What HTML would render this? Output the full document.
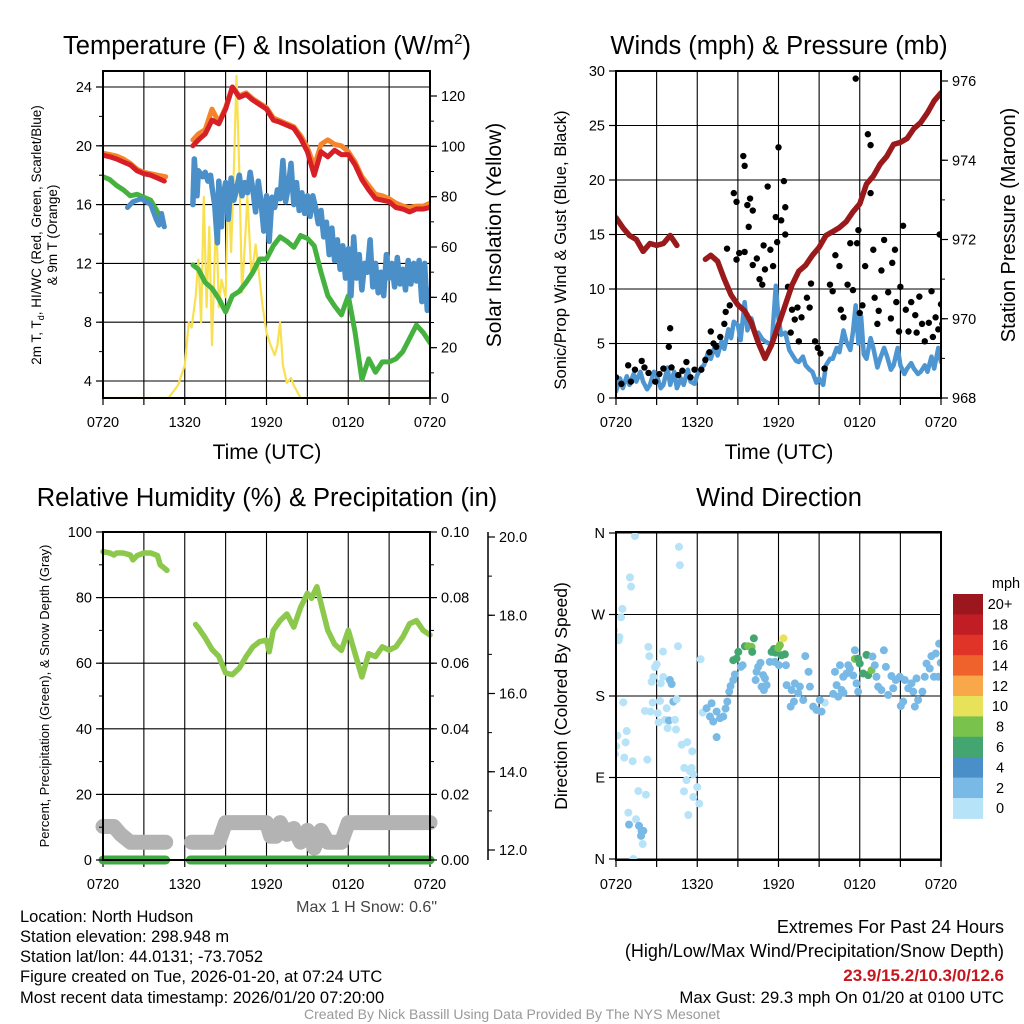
<!DOCTYPE html>
<html><head><meta charset="utf-8"><style>
html,body{margin:0;padding:0;background:#fff;}
svg{display:block;font-family:"Liberation Sans",sans-serif;}
</style></head><body>
<svg id="fig" width="1024" height="1024" viewBox="0 0 1024 1024">
<g id="g1"></g>
<g id="g2"></g>
<g id="g3"></g>
<g id="g4"></g>
<g font-size="25.5" text-anchor="middle">
<text x="267" y="54">Temperature (F) &amp; Insolation (W/m<tspan font-size="15" dy="-10">2</tspan><tspan dy="10">)</tspan></text>
<text x="779" y="54">Winds (mph) &amp; Pressure (mb)</text>
<text x="267" y="506">Relative Humidity (%) &amp; Precipitation (in)</text>
<text x="779" y="506">Wind Direction</text>
</g>
<g font-size="21" text-anchor="middle">
<text x="267" y="459">Time (UTC)</text>
<text x="779" y="459">Time (UTC)</text>
<text transform="translate(41,235) rotate(-90)" font-size="13.5">2m T, T<tspan font-size="9" dy="3">d</tspan><tspan dy="-3">, HI/WC (Red, Green, Scarlet/Blue)</tspan></text>
<text transform="translate(57,235) rotate(-90)" font-size="13.5">&amp; 9m T (Orange)</text>
<text transform="translate(501,235) rotate(-90)" font-size="21">Solar Insolation (Yellow)</text>
<text transform="translate(566,250) rotate(-90)" font-size="16.7">Sonic/Prop Wind &amp; Gust (Blue, Black)</text>
<text transform="translate(1015,225) rotate(-90)" font-size="20">Station Pressure (Maroon)</text>
<text transform="translate(49,696) rotate(-90)" font-size="13">Percent, Precipitation (Green), &amp; Snow Depth (Gray)</text>
<text transform="translate(567,696) rotate(-90)" font-size="17.5">Direction (Colored By Speed)</text>
</g>
<g font-size="16.5">
<text x="20" y="922">Location: North Hudson</text>
<text x="20" y="942">Station elevation: 298.948 m</text>
<text x="20" y="962">Station lat/lon: 44.0131; -73.7052</text>
<text x="20" y="982">Figure created on Tue, 2026-01-20, at 07:24 UTC</text>
<text x="20" y="1003">Most recent data timestamp: 2026/01/20 07:20:00</text>
<text x="437" y="912" text-anchor="end" font-size="16" fill="#444">Max 1 H Snow: 0.6"</text>
</g>
<g font-size="18" text-anchor="end">
<text x="1004" y="933">Extremes For Past 24 Hours</text>
<text x="1004" y="957">(High/Low/Max Wind/Precipitation/Snow Depth)</text>
<text x="1004" y="981" fill="#c8161e" font-weight="bold" font-size="17">23.9/15.2/10.3/0/12.6</text>
<text x="1004" y="1003" font-size="16.8">Max Gust: 29.3 mph On 01/20 at 0100 UTC</text>
</g>
<text x="512" y="1019" font-size="14" fill="#999" text-anchor="middle">Created By Nick Bassill Using Data Provided By The NYS Mesonet</text>
</svg>
<script>
// ---------- data (hours since 0720 UTC) ----------
const xTickLabels = ["0720","1320","1920","0120","0720"];
// Temperature panel
const red1 = [[0,19.36],[0.5,19.25],[1,19.1],[1.5,18.9],[2,18.7],[2.5,18.3],[3,18.1],[3.5,18.0],[4,17.8],[4.5,17.6]];
const red2 = [[6.6,20.0],[7,20.4],[7.5,20.8],[8,21.75],[8.5,21.5],[9,22.5],[9.5,24.0],[10,23.3],[10.5,23.5],[11,23.1],[11.5,22.8],[12,22.5],[12.5,21.75],[13,21.6],[13.5,21.4],[14,21.2],[14.5,20.5],[15,19.6],[15.5,18.0],[16,19.6],[16.5,19.25],[17,19.7],[17.5,19.4],[18,19.4],[18.5,18.7],[19,17.7],[19.5,17.0],[20,16.4],[20.5,16.3],[21,16.2],[21.5,15.8],[22,15.7],[22.5,15.5],[23,15.7],[23.5,15.7],[24,15.8]];
const orange1 = [[0,19.5],[0.5,19.4],[1,19.3],[1.5,19.1],[2,18.8],[2.5,18.4],[3,18.2],[3.5,18.1],[4,18.0],[4.6,17.9]];
const orange2 = [[6.6,20.4],[7,20.8],[7.5,21.1],[8,22.5],[8.5,21.6],[9,22.6],[9.5,24.0],[10,23.4],[10.5,23.6],[11,23.2],[11.5,22.9],[12,22.6],[12.5,21.9],[13,21.7],[13.5,21.5],[14,21.3],[14.5,20.7],[15,19.9],[15.5,18.6],[16,20.1],[16.5,20.4],[17,20.1],[17.5,20.0],[18,19.6],[18.5,18.9],[19,17.9],[19.5,17.3],[20,16.7],[20.5,16.6],[21,16.4],[21.5,16.1],[22,15.9],[22.5,15.8],[23,15.9],[23.5,15.9],[24,16.1]];
const green1 = [[0,17.9],[0.5,17.7],[1,17.3],[1.5,17.0],[2,16.6],[2.5,16.7],[3,16.5],[3.5,16.3],[4,15.5],[4.5,14.5]];
const green2 = [[6.6,11.9],[7,11.6],[7.5,10.7],[8,10.3],[8.5,9.6],[9,8.7],[9.5,9.8],[10,10.1],[10.5,10.7],[11,11.4],[11.5,12.3],[12,12.3],[12.5,13.2],[13,13.8],[13.5,13.5],[14,13.1],[14.5,13.9],[15,13.7],[15.5,13.2],[16,11.4],[16.5,9.8],[17,9.1],[17.5,8.5],[18,9.8],[18.5,7.3],[19,4.1],[19.5,5.5],[20,4.6],[20.5,5.3],[21,5.3],[21.5,5.5],[22,6.0],[22.5,6.9],[23,7.8],[23.5,7.3],[24,6.6]];
const blue1 = [[1.8,15.8],[2.2,16.2],[2.8,16.4],[3.5,16.0],[3.9,15.0],[4.1,14.6],[4.3,15.4],[4.5,14.5]];
const blue2 = [[6.6,16.0],[6.7,19.1],[6.9,16.6],[7.0,18.3],[7.3,17.9],[7.5,18.2],[7.7,17.6],[7.9,18.0],[8.0,17.2],[8.2,16.0],[8.4,13.4],[8.5,17.6],[8.7,14.5],[8.8,16.5],[9.0,17.5],[9.2,15.0],[9.4,17.8],[9.6,16.3],[9.8,17.0],[10.0,18.0],[10.2,16.6],[10.4,17.5],[10.6,16.8],[10.8,18.2],[11.0,17.0],[11.2,15.5],[11.4,17.6],[11.6,16.2],[11.8,14.2],[12.0,16.6],[12.2,13.5],[12.4,16.5],[12.6,15.8],[12.8,17.0],[13.0,16.4],[13.2,19.0],[13.4,16.2],[13.6,17.2],[13.8,18.8],[14.0,16.0],[14.2,17.5],[14.4,15.6],[14.6,16.8],[14.8,15.4],[15.0,16.6],[15.2,15.2],[15.4,16.6],[15.6,15.8],[15.8,14.7],[16.0,15.6],[16.2,13.8],[16.4,14.8],[16.6,12.6],[16.8,14.4],[17.0,12.2],[17.2,13.6],[17.4,11.6],[17.6,13.2],[17.8,11.0],[18.0,13.0],[18.2,9.8],[18.4,13.8],[18.6,11.0],[18.8,12.6],[19.0,10.2],[19.2,12.0],[19.4,11.4],[19.6,13.6],[19.8,10.4],[20.0,12.0],[20.2,10.0],[20.4,11.4],[20.6,9.8],[20.8,12.6],[21.0,11.0],[21.2,12.0],[21.4,10.4],[21.6,12.4],[21.8,10.6],[22.0,11.6],[22.2,10.2],[22.4,12.2],[22.6,10.6],[22.8,12.0],[23.0,10.8],[23.2,12.2],[23.4,9.4],[23.6,12.0],[23.8,8.8],[24.0,10.2]];
const solar = [[0,0],[4.8,0],[5.5,5],[6,13],[6.3,30],[6.5,28],[6.8,40],[7,55],[7.2,30],[7.4,80],[7.6,36],[7.8,68],[8,21],[8.3,74],[8.5,36],[8.7,47],[9,40],[9.2,86],[9.4,58],[9.6,90],[9.8,128],[10,90],[10.2,42],[10.4,60],[10.6,80],[10.9,48],[11.2,61],[11.5,47],[11.7,37],[12,26],[12.3,21],[12.6,17],[12.8,21],[13,30],[13.2,13],[13.5,6],[13.8,8],[14,5],[14.5,0],[24,0]];
const tempTicks = [4,8,12,16,20,24];
const solarTicks = [0,20,40,60,80,100,120];
// Winds panel
const press1 = [[0,972.55],[0.5,972.3],[1,972.1],[1.5,972.0],[2,971.7],[2.5,971.9],[3,971.85],[3.5,971.9],[4,972.1],[4.5,971.85]];
const press2 = [[6.6,971.5],[7,971.6],[7.5,971.45],[8,971.0],[8.5,970.6],[9,970.35],[9.5,970.2],[10,969.9],[10.5,969.4],[11,969.0],[11.5,969.35],[12,969.85],[12.5,970.35],[13,970.85],[13.5,971.2],[14,971.35],[14.5,971.6],[15,971.8],[15.5,972.1],[16,972.2],[16.5,972.3],[17,972.45],[17.5,972.7],[18,972.9],[18.5,973.4],[19,973.6],[19.5,973.9],[20,974.1],[20.5,974.4],[21,974.45],[21.5,974.55],[22,974.8],[22.5,974.95],[23,975.2],[23.5,975.5],[24,975.7]];
const windSpd = [[0,0.6],[0.3,1.8],[0.5,0.9],[0.8,2.0],[1,1.2],[1.3,2.2],[1.5,1.5],[1.8,2.4],[2,1.5],[2.3,0.8],[2.5,1.2],[2.8,2.4],[3,2.1],[3.3,0.9],[3.5,1.2],[3.8,2.8],[4,1.2],[4.3,2.4],[4.5,0.9],[4.8,1.8],[5,1.2],[5.3,2.6],[5.5,1.5],[5.8,1.3],[6,2.1],[6.3,2.8],[6.5,3.0],[6.8,4.2],[7,3.6],[7.3,4.8],[7.5,3.9],[7.8,5.2],[8,4.5],[8.3,6.3],[8.5,5.5],[8.7,7.0],[9,6.7],[9.2,5.3],[9.5,8.8],[9.7,6.2],[10,7.3],[10.3,5.8],[10.5,6.0],[10.8,5.4],[11,5.2],[11.3,5.0],[11.5,4.8],[11.8,10.3],[12,7.3],[12.2,5.8],[12.5,6.0],[12.8,4.4],[13,4.0],[13.3,3.4],[13.5,3.3],[13.8,3.8],[14,3.0],[14.3,2.6],[14.5,2.4],[14.8,1.4],[15,1.8],[15.3,1.2],[15.5,3.0],[15.8,3.6],[16,3.6],[16.3,4.6],[16.5,4.2],[16.8,6.2],[17,5.2],[17.3,4.4],[17.5,6.1],[17.7,8.5],[17.9,5.0],[18.1,7.5],[18.3,4.0],[18.5,3.6],[18.8,5.5],[19,4.6],[19.3,2.8],[19.5,3.6],[19.8,4.6],[20,3.9],[20.3,2.6],[20.5,3.0],[20.8,4.6],[21,3.0],[21.3,2.2],[21.5,2.7],[21.8,3.2],[22,2.7],[22.3,2.2],[22.5,2.4],[22.8,3.0],[23,2.4],[23.3,3.8],[23.5,2.7],[23.8,4.6],[24,3.3]];
const gusts = [[0,1.9],[0.4,1.3],[0.9,3.0],[1.4,2.6],[1.9,3.4],[2.4,2.3],[2.9,1.5],[3.5,2.7],[4,6.4],[3.9,4.7],[4.1,2.8],[4.6,2.1],[5.2,3.3],[5.8,2.6],[6.3,2.6],[6.6,3.5],[7,6.1],[7.4,4.7],[7.7,5.6],[8.1,7.9],[8.2,13.7],[8.4,8.5],[8.7,18.8],[8.9,12.7],[8.9,18.0],[9.1,13.3],[9.4,22.2],[9.5,21.3],[9.5,13.4],[9.7,17.7],[9.8,15.7],[9.9,18.3],[10.1,17.2],[10.1,12.2],[10.4,12.8],[10.8,10.4],[10.9,14],[11.2,19.4],[11.4,13.6],[11.6,12.1],[11.8,16.6],[11.9,14.3],[12,23.0],[12.2,16.3],[12.4,19.9],[12.5,17.5],[12.5,15],[12.7,10.2],[13,8.1],[13.2,7.2],[13.5,5.2],[13.7,7.4],[14.1,9.2],[14.3,8.3],[14.4,10.5],[14.7,5.2],[15.1,4.1],[15.4,2.7],[15.8,10.4],[16.2,13.1],[16.5,12.1],[16.6,8.1],[16.8,7.4],[17.1,10.4],[17.3,14.2],[17.5,9.9],[17.7,29.3],[17.8,14.2],[17.9,15.4],[18.2,8.5],[18.4,12.1],[18.6,24.2],[18.8,23.2],[18.8,18.8],[19,13.6],[19.1,9.2],[19.3,6.8],[19.6,11.7],[19.8,14.5],[20.1,9.7],[20.4,12.4],[20.6,13.6],[20.7,8.8],[20.9,6.1],[21.2,15.8],[21.4,8.1],[21.6,6.1],[21.8,8.8],[22.1,7.6],[22.2,6.0],[22.6,6.8],[22.8,5.2],[23.1,6.9],[23.3,9.8],[23.6,7.4],[23.8,6.3],[23.9,15.0],[24,8.6],[24.1,6.8],[1.1,1.5],[2.1,2.8],[3.2,2.2],[4.9,2.5],[5.5,1.9],[6.9,4.2],[7.2,5.0],[8.0,6.8],[10.6,10.9],[11.0,11.8],[12.9,6.0],[13.4,8.3],[14.9,4.6],[16.0,9.8],[18.0,7.8],[19.4,8.0],[20.3,7.3],[21.0,10.2],[22.4,9.3],[23.4,5.6]];
const windTicks = [0,5,10,15,20,25,30];
const pressTicks = [968,970,972,974,976];
// Humidity panel
const rh1 = [[0,94],[0.5,93.6],[0.8,93],[1,93.6],[1.5,93.6],[2,93],[2.2,91.5],[2.5,92.8],[3,93.6],[3.5,93.6],[4,92.8],[4.2,90],[4.5,89],[4.7,88.3]];
const rh2 = [[6.8,71.8],[7,70.8],[7.5,67.7],[8,64.2],[8.5,62.1],[9,57],[9.5,56.5],[10,58.5],[10.5,62],[11,65],[11.5,66.6],[12,67],[12.2,63.5],[12.5,70],[13,73],[13.5,75],[14,71],[14.5,77],[15,81.3],[15.3,79.8],[15.7,83.3],[16,78.2],[16.5,70],[17,65.8],[17.5,63.9],[18,70],[18.5,62.9],[19,55.8],[19.5,62.9],[20,62],[20.5,65],[21,64],[21.5,65],[22,68],[22.5,72],[23,73],[23.5,70],[24,68.6]];
const snow1 = [[0,12.6],[0.8,12.6],[1.3,12.4],[2,12.2],[4.6,12.2]];
const snow2 = [[6.5,12.2],[8.5,12.2],[9,12.7],[12,12.7],[12.3,12.35],[12.7,12.35],[13,12.7],[13.5,12.4],[14,12.55],[14.5,12.2],[15,12.5],[15.5,12.05],[16,12.5],[16.5,12.2],[17.5,12.2],[18,12.7],[24,12.7]];
const precip1 = [[0,0],[4.6,0]];
const precip2 = [[6.4,0],[24,0]];
const rhTicks = [0,20,40,60,80,100];
const precipTicks = ["0.00","0.02","0.04","0.06","0.08","0.10"];
const snowTicks = [12,14,16,18,20];
// Wind direction panel: [hour, degrees, speed mph]
const dirObs = [[1.4,356.7,1],[1.03,311,1],[1.11,300.8,1],[0.47,276.2,1],[0.37,267,1],[-0.15,252.5,1],[0.25,245,1],[0.2,241.5,1],[2.39,234.2,1],[2.46,224,1],[3.47,229,1],[4.58,235,1],[4.65,344.7,1],[4.72,324.5,1],[3.0,215,1],[2.88,212,1],[2.76,201,1],[2.63,195.7,1],[3.49,201,1],[3.3,194,1],[3.98,197.6,2],[4.11,193.2,2],[0.54,173,1],[2.14,163.5,1],[2.56,162.8,1],[2.71,172.7,1],[3.25,174.5,1],[3.08,161,1],[3.74,166.5,1],[3.62,153.7,1],[3.91,153,2],[4.35,153.7,1],[4.43,143,1],[3.81,144.5,1],[3.15,150.9,1],[4.23,173.8,2],[4.48,176.4,1],[0.1,136.2,1],[0.79,141.3,1],[0.71,128.8,1],[0,124.4,1],[-0.07,116,1],[0.61,112,1],[1.23,108,1],[2.31,109.7,1],[4.85,126.2,1],[5.26,129.1,1],[5.63,118.9,1],[5.04,100.6,1],[5.46,96.9,1],[5.21,87.1,1],[5.71,93.3,1],[5.58,100.6,1],[6.0,79.4,1],[5.02,74.7,1],[5.71,68.4,1],[6.15,61.1,1],[1.65,75,1],[2.21,71,1],[0.91,51.2,1],[1.48,43.9,1],[0.96,38,2],[1.7,36.6,2],[1.89,31.1,2],[2.02,31.1,2],[1.85,25.6,2],[1.97,16.5,1],[1.28,0,1],[5.34,48.6,1],[6.25,220.6,1],[6.4,161.7,1],[6.69,166.5,2],[6.94,157.3,2],[7.06,172,2],[7.43,162.8,2],[7.68,155.5,2],[7.92,157.3,2],[7.18,151.8,2],[7.43,134.6,2],[8.09,166.1,3],[8.22,173.8,3],[8.36,184.8,3],[8.46,191,2],[8.66,197.6,3],[8.78,203.8,3],[8.9,221.3,6],[8.66,219.5,6],[9.03,228.7,6],[9.22,212.2,3],[9.35,214,3],[9.52,234.9,7],[9.77,234.9,8],[10.01,234.2,8],[10.18,243.7,6],[10.06,228.7,6],[10.38,206.7,3],[10.5,212.2,3],[10.67,216.6,3],[10.87,203,3],[11.0,199.4,3],[10.75,190.3,3],[10.92,186.6,3],[10.31,197.6,3],[11.12,192,3],[11.36,217.7,3],[11.49,228.7,6],[11.66,231.9,6],[11.78,227.9,7],[11.98,233.1,8],[12.1,236,8],[12.37,243.7,10],[12.22,225,6],[12.47,226.1,6],[11.73,217.7,3],[12.03,214,3],[12.55,214,3],[12.6,192,2],[12.97,186.6,2],[13.21,193.9,2],[13.58,190.3,2],[13.83,175.6,2],[13.98,224.1,2],[14.22,206.7,3],[14.32,190.3,2],[13.46,183,3],[13.14,173.8,3],[12.9,168.3,2],[14.56,168.3,2],[14.81,164.6,2],[15.18,162.8,2],[15.42,172.7,1],[15.05,175.6,2],[16.8,183.6,2],[16.04,182.3,3],[16.41,179.3,3],[16.29,192,3],[16.17,206.7,2],[16.54,214,2],[16.66,186.6,2],[16.78,201.2,3],[17.03,204.9,3],[17.15,214,3],[17.27,210.3,3],[17.52,202.6,3],[17.64,230.5,3],[17.76,193.9,3],[17.88,184.8,2],[18.0,215.8,6],[17.64,220.9,8],[17.88,221.3,7],[18.5,225.4,6],[18.94,223.6,3],[18.25,204.9,6],[18.62,203,6],[18.87,208.5,8],[19.11,214,2],[19.23,201.2,2],[19.36,190.3,2],[19.6,186.6,3],[19.78,230.5,3],[19.93,212.2,2],[20.1,181.2,2],[20.34,202.1,3],[20.47,188.5,3],[20.66,197.6,3],[20.96,201.2,2],[21.03,168.9,2],[21.21,173.8,3],[21.33,197.6,3],[21.58,188.5,2],[21.82,194,3],[21.95,184.8,2],[22.19,199.4,2],[22.31,175.6,2],[22.07,168.3,2],[22.63,184.8,2],[22.8,201.2,2],[22.93,215.8,2],[23.17,210.3,2],[23.29,224,3],[23.61,226.9,3],[23.86,237.8,3],[23.98,216.6,3],[23.48,201.2,2],[23.8,201.2,2],[24.1,201.9,2]];
const cbarLabels = ["20+","18","16","14","12","10","8","6","4","2","0"];
const cbarColors = ["#9b161d","#c01d25","#df3427","#f0622b","#f8a848","#e8e25a","#79c24b","#43a671","#4a8fc8","#79b9e6","#b7e3f8"];

// ---------- helpers ----------
const NS="http://www.w3.org/2000/svg";
function el(parent,tag,attrs){const e=document.createElementNS(NS,tag);for(const k in attrs)e.setAttribute(k,attrs[k]);parent.appendChild(e);return e;}
function lin(d0,d1,r0,r1){return v=>r0+(v-d0)*(r1-r0)/(d1-d0);}
function pathOf(pts,sx,sy){return pts.map((p,i)=>(i?"L":"M")+sx(p[0]).toFixed(1)+","+sy(p[1]).toFixed(1)).join("");}
function drawLine(g,pts,sx,sy,color,w,name){
  const p=el(g,"path",{d:pathOf(pts,sx,sy),fill:"none",stroke:color,"stroke-width":w,"stroke-linejoin":"round","stroke-linecap":"round"});
  
  
  return p;
}
function frame(g,x0,x1,y0,y1,sx,hGridYs,clipId){
  for(let h=3;h<24;h+=3){
    const l=el(g,"line",{x1:sx(h),x2:sx(h),y1:y0,y2:y1,stroke:"#000","stroke-width":1.1});
    
    
  }
  hGridYs.forEach(y=>{
    const l=el(g,"line",{x1:x0,x2:x1,y1:y,y2:y,stroke:"#000","stroke-width":1.1});
    
    
  });
  xTickLabels.forEach((lab,i)=>{
    const x=sx(i*6);
    const t=el(g,"text",{x:x,y:y1+29,"font-size":14.5,"text-anchor":"middle"});t.textContent=lab;
    
    
  });
  for(let h=0;h<=24;h+=3){
    const l=el(g,"line",{x1:sx(h),x2:sx(h),y1:y1,y2:y1+7,stroke:"#000","stroke-width":1.2});
    
    
  }
  el(g,"clipPath",{id:clipId}).appendChild(document.createElementNS(NS,"rect"));
  const r=document.querySelector("#"+clipId+" rect");r.setAttribute("x",x0);r.setAttribute("y",y0);r.setAttribute("width",x1-x0);r.setAttribute("height",y1-y0);
}
function border(g,x0,x1,y0,y1){
  const b=el(g,"rect",{x:x0,y:y0,width:x1-x0,height:y1-y0,fill:"none",stroke:"#000","stroke-width":2});
  
  
}
function yAxis(g,x,vals,labels,sy,side,minorStep,lo,hi,name){
  const dir=side==="left"?-1:1;
  vals.forEach((v,i)=>{
    const y=sy(v);
    const l=el(g,"line",{x1:x,x2:x+dir*7,y1:y,y2:y,stroke:"#000","stroke-width":1.2});
    
    
    const t=el(g,"text",{x:x+dir*11,y:y+5,"font-size":14.5,"text-anchor":side==="left"?"end":"start"});
    t.textContent=labels[i];
    
    
  });
  if(minorStep){for(let v=lo;v<=hi+1e-9;v+=minorStep){const y=sy(v);
    const l=el(g,"line",{x1:x,x2:x+dir*4,y1:y,y2:y,stroke:"#000","stroke-width":1});
    
    }}
}

// ---------- Panel 1: temperature ----------
(function(){
  const g=document.getElementById("g1");
  const X0=103,X1=430,Y0=71,Y1=398;
  const sx=lin(0,24,X0,X1), sy=lin(4,24,381,87), ss=lin(0,120,398,96);
  frame(g,X0,X1,Y0,Y1,sx,tempTicks.map(sy),"c1");
  const d=el(g,"g",{"clip-path":"url(#c1)"});
  drawLine(d,solar,sx,ss,"#f9e04f",2.2,"solar-insolation-line");
  drawLine(d,orange1,sx,sy,"#f5842b",5,"temp-9m-line");
  drawLine(d,orange2,sx,sy,"#f5842b",5,"temp-9m-line");
  drawLine(d,red1,sx,sy,"#d61f26",5,"temp-2m-line");
  drawLine(d,red2,sx,sy,"#d61f26",5,"temp-2m-line");
  drawLine(d,green1,sx,sy,"#45b23f",5,"dewpoint-line");
  drawLine(d,green2,sx,sy,"#45b23f",5,"dewpoint-line");
  drawLine(d,blue1,sx,sy,"#4a8fc8",5,"windchill-line");
  drawLine(d,blue2,sx,sy,"#4a8fc8",5.5,"windchill-line");
  border(g,X0,X1,Y0,Y1);
  yAxis(g,X0,tempTicks,tempTicks.map(String),sy,"left",2,4,24,"temp-axis");
  yAxis(g,X1,solarTicks,solarTicks.map(String),ss,"right",10,0,120,"solar-axis");
})();

// ---------- Panel 2: winds ----------
(function(){
  const g=document.getElementById("g2");
  const X0=616,X1=941,Y0=71,Y1=398;
  const sx=lin(0,24,X0,X1), sy=lin(0,30,398,71), sp=lin(968,976,398,81);
  frame(g,X0,X1,Y0,Y1,sx,windTicks.map(sy),"c2");
  const d=el(g,"g",{"clip-path":"url(#c2)"});
  drawLine(d,windSpd,sx,sy,"#4e96d2",4.5,"wind-speed-line");
  gusts.forEach(p=>{
    const c=el(d,"circle",{cx:sx(p[0]),cy:sy(p[1]),r:3.2,fill:"#000"});
    
    
  });
  drawLine(d,press1,sx,sp,"#9a1a1c",5.5,"pressure-line");
  drawLine(d,press2,sx,sp,"#9a1a1c",5.5,"pressure-line");
  border(g,X0,X1,Y0,Y1);
  yAxis(g,X0,windTicks,windTicks.map(String),sy,"left",null,0,0,"wind-axis");
  yAxis(g,X1,pressTicks,pressTicks.map(String),sp,"right",1,968,976,"pressure-axis");
})();

// ---------- Panel 3: humidity ----------
(function(){
  const g=document.getElementById("g3");
  const X0=103,X1=430,Y0=532,Y1=860;
  const sx=lin(0,24,X0,X1), sy=lin(0,100,860,532), sn=lin(12,20,850,537);
  frame(g,X0,X1,Y0,Y1,sx,rhTicks.map(sy),"c3");
  const cp=el(g,"clipPath",{id:"c3x"});el(cp,"rect",{x:X0-10,y:Y0,width:X1-X0+20,height:Y1-Y0+10});
  const d=el(g,"g",{"clip-path":"url(#c3x)"});
  drawLine(d,snow1,sx,sn,"#b3b3b3",15,"snow-depth-line");
  drawLine(d,snow2,sx,sn,"#b3b3b3",15,"snow-depth-line");
  drawLine(d,rh1,sx,sy,"#8cc84b",5.5,"humidity-line");
  drawLine(d,rh2,sx,sy,"#8cc84b",5.5,"humidity-line");
  border(g,X0,X1,Y0,Y1);
  drawLine(d,precip1,sx,v=>sy(v),"#3faa3f",9,"precip-line");
  drawLine(d,precip2,sx,v=>sy(v),"#3faa3f",9,"precip-line");
  yAxis(g,X0,rhTicks,rhTicks.map(String),sy,"left",10,0,100,"humidity-axis");
  yAxis(g,X1,rhTicks,precipTicks,sy,"right",10,0,100,"precip-axis");
  const ax=el(g,"line",{x1:488,x2:488,y1:532,y2:860,stroke:"#000","stroke-width":1.5});
  
  
  yAxis(g,488,snowTicks,snowTicks.map(v=>v.toFixed(1)),sn,"right",1,12,20,"snow-axis");
})();

// ---------- Panel 4: wind direction ----------
(function(){
  const g=document.getElementById("g4");
  const X0=616,X1=941,Y0=532,Y1=860;
  const sx=lin(0,24,X0,X1), sy=lin(0,360,859,533);
  const dirVals=[0,90,180,270,360], dirLabs=["N","E","S","W","N"];
  frame(g,X0,X1,Y0,Y1,sx,dirVals.map(sy),"c4");
  const d=el(g,"g",{"clip-path":"url(#c4)"});
  function col(s){const i=Math.min(10,Math.floor(s/2));return cbarColors[10-i];}
  dirObs.forEach(p=>{
    const c=el(d,"circle",{cx:sx(p[0]),cy:sy(p[1]),r:4,fill:col(p[2])});
    
    
  });
  border(g,X0,X1,Y0,Y1);
  yAxis(g,X0,dirVals,dirLabs,sy,"left",null,0,0,"direction-axis");
  const cb=el(g,"g",{});
  
  
  const bh=20.4;
  cbarColors.forEach((c,i)=>{
    const r=el(cb,"rect",{x:953,y:594+i*bh,width:30,height:bh+0.5,fill:c});
    
    
    const t=el(cb,"text",{x:1000,y:594+i*bh+bh/2+5,"font-size":14.5,"text-anchor":"middle"});
    t.textContent=cbarLabels[i];
    
    
  });
  const u=el(cb,"text",{x:1006,y:588,"font-size":14.5,"text-anchor":"middle"});u.textContent="mph";
  
  
})();
</script>
</body></html>
